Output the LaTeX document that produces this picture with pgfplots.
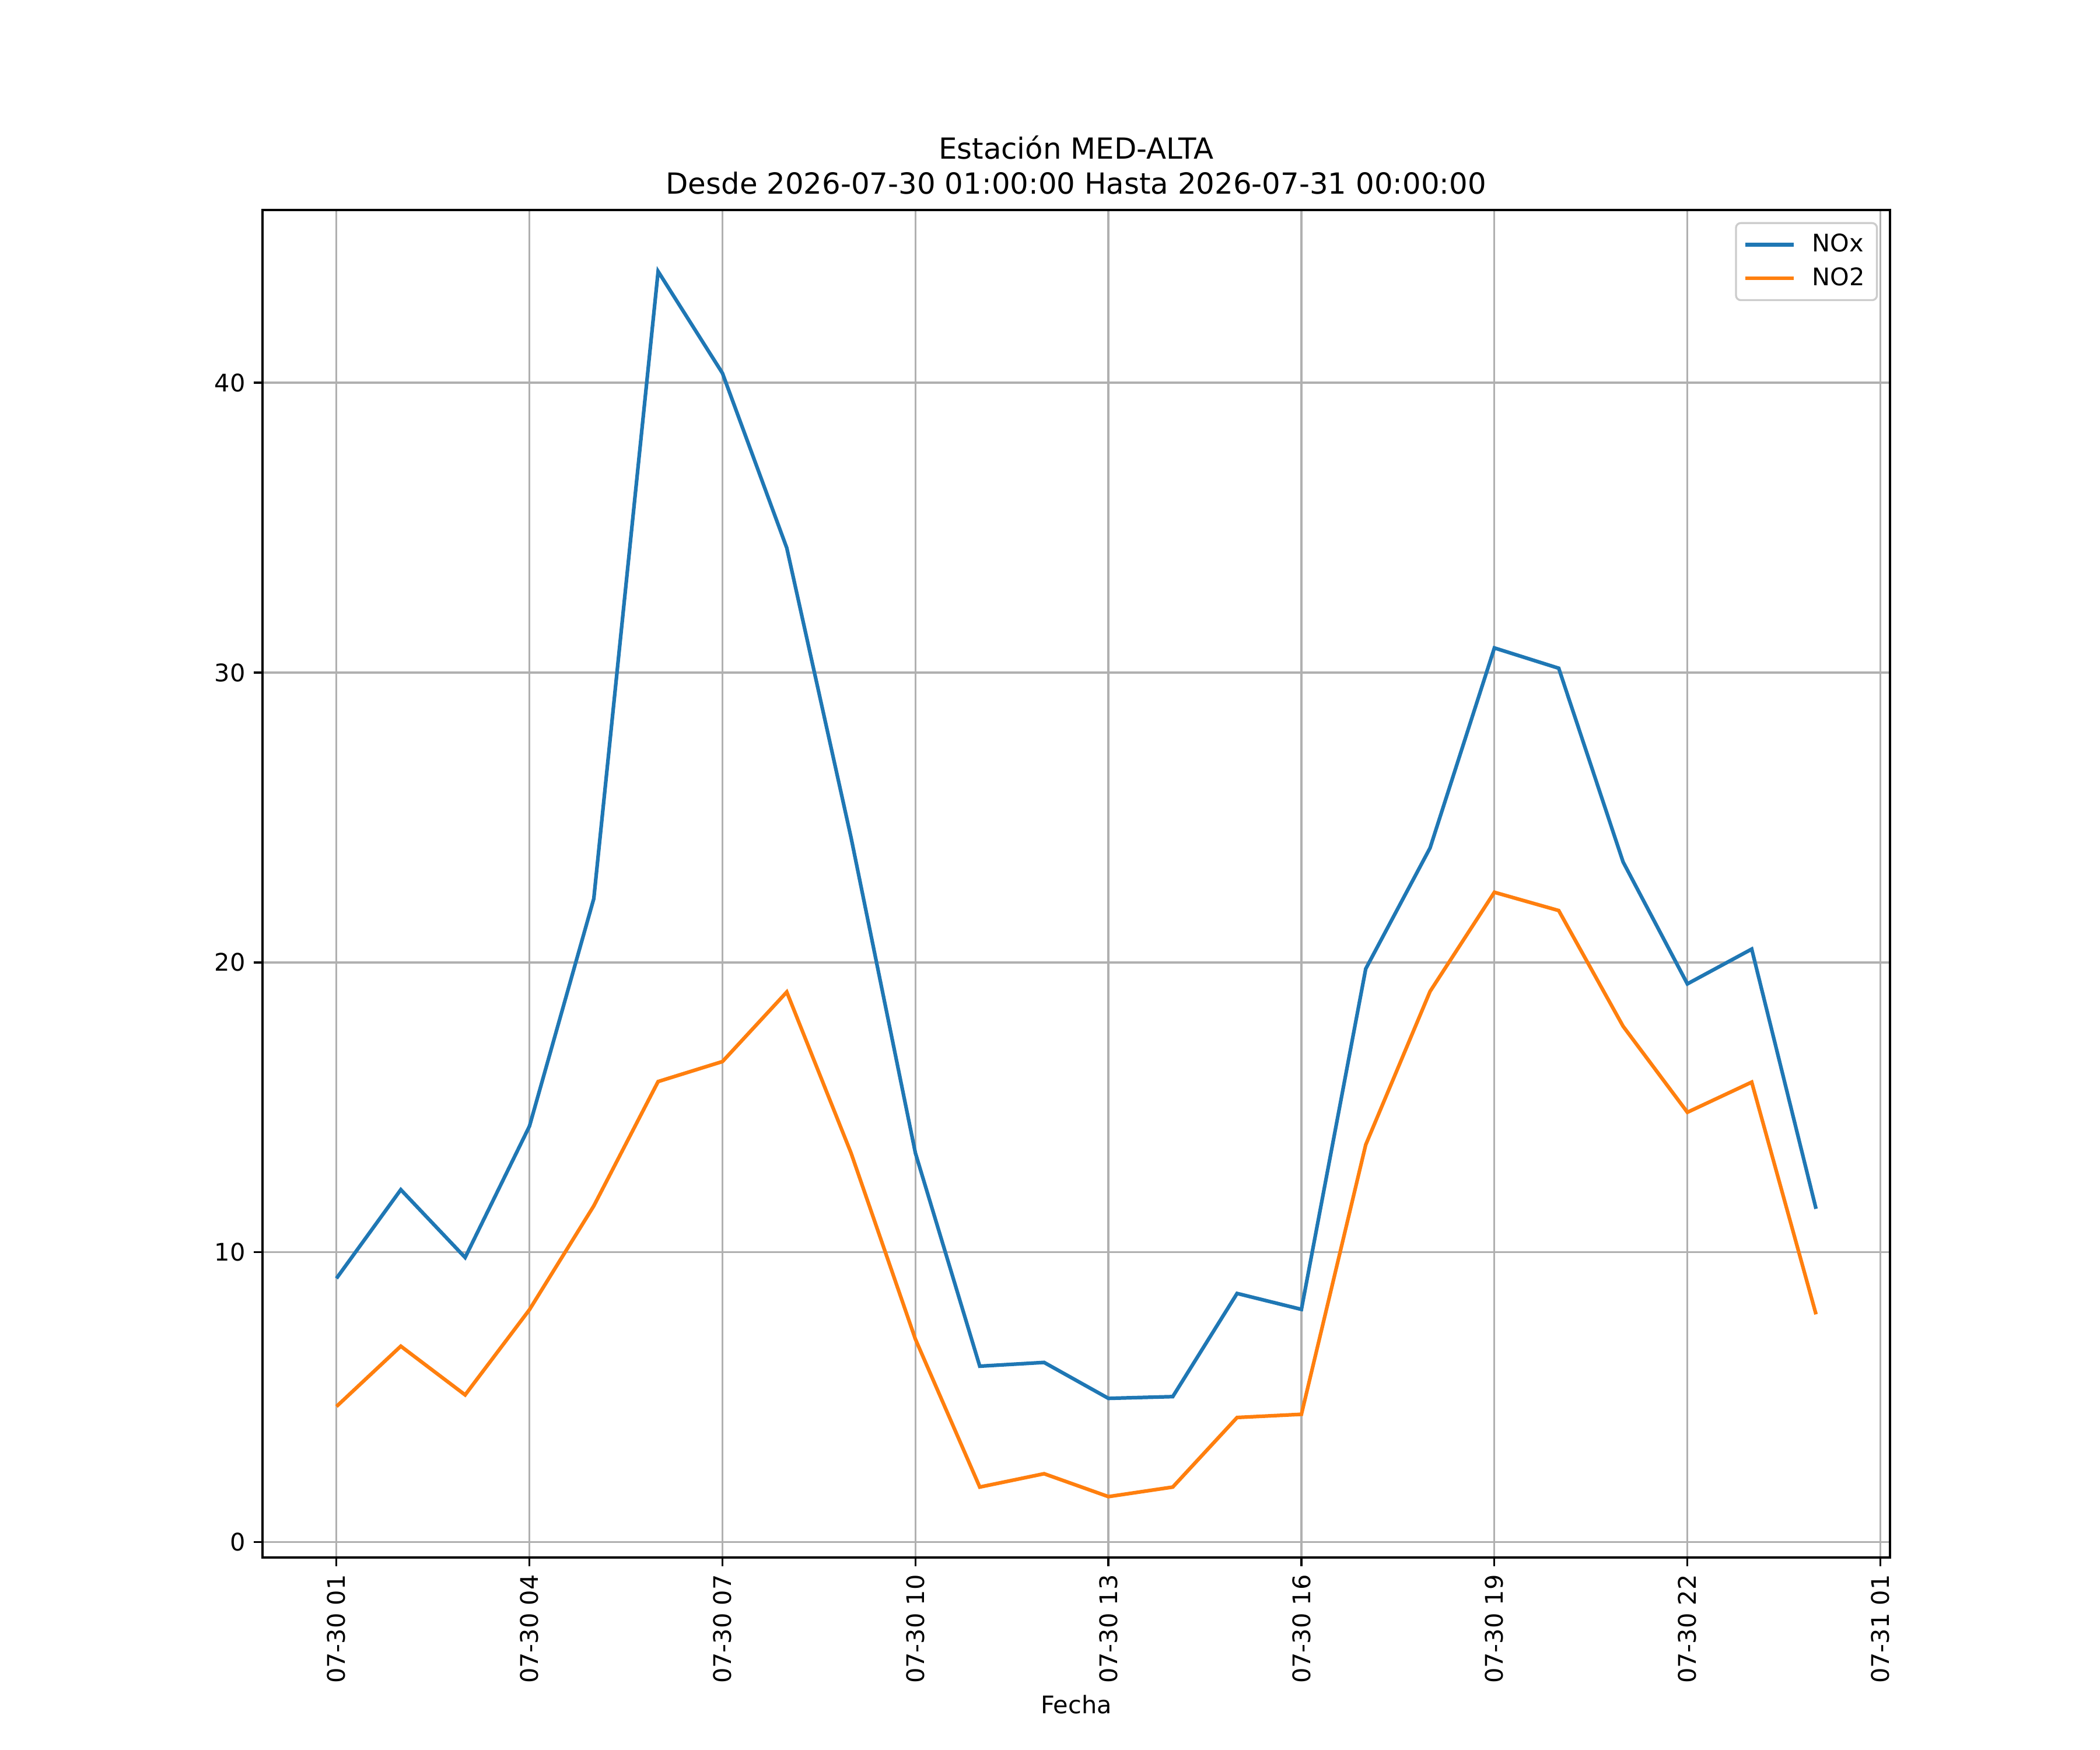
\documentclass[border=0pt]{standalone}
\usepackage{pgfplots}
\pgfplotsset{compat=1.18}
\usepackage{fontspec}
\setmainfont{DejaVu Sans}
\definecolor{mplblue}{HTML}{1F77B4}
\definecolor{mplorange}{HTML}{FF7F0E}
\definecolor{gridgray}{HTML}{B0B0B0}
\definecolor{legedge}{HTML}{CCCCCC}
\pgfplotstableread{
h nox no2
1 9.10 4.68
2 12.16 6.76
3 9.82 5.08
4 14.35 8.02
5 22.20 11.60
6 43.84 15.89
7 40.33 16.58
8 34.30 18.98
9 24.30 13.42
10 13.42 7.00
11 6.07 1.90
12 6.20 2.36
13 4.96 1.57
14 5.02 1.90
15 8.58 4.30
16 8.03 4.41
17 19.78 13.71
18 23.95 19.00
19 30.85 22.42
20 30.15 21.79
21 23.47 17.80
22 19.26 14.83
23 20.46 15.87
24 11.50 7.86
}\datatable
\begin{document}
\begin{tikzpicture}
\useasboundingbox (-1.5in,-1.1in) rectangle (10.5in,8.9in);
\begin{axis}[
  at={(0,0)}, anchor=south west,
  scale only axis, width=9.3in, height=7.7in,
  xmin=-0.15, xmax=25.15, ymin=-0.53, ymax=45.96,
  xtick={1,4,7,10,13,16,19,22,25},
  xticklabels={07-30 01,07-30 04,07-30 07,07-30 10,07-30 13,07-30 16,07-30 19,07-30 22,07-31 01},
  ytick={0,10,20,30,40},
  x tick label style={rotate=90, anchor=east, font=\fontsize{10}{12}\selectfont},
  y tick label style={font=\fontsize{10}{12}\selectfont},
  /pgf/number format/assume math mode=true,
  tick align=outside, tick pos=left,
  major tick length=3.5pt,
  every tick/.style={black, line width=0.8pt},
  axis line style={line width=0.8pt},
  grid=major,
  major grid style={gridgray, line width=0.8pt},
  xlabel={Fecha},
  xlabel style={font=\fontsize{10}{12}\selectfont, yshift=2pt},
  title={Estación MED-ALTA\\Desde 2026-07-30 01:00:00 Hasta 2026-07-31 00:00:00},
  title style={align=center, font=\fontsize{12}{14.4}\selectfont, yshift=-3pt},
  legend style={at={(rel axis cs:1,1)}, xshift=-5pt, yshift=-5pt, anchor=north east,
    draw=legedge, rounded corners=2pt, line width=0.8pt, fill=white, fill opacity=0.8, text opacity=1,
    font=\fontsize{10}{12}\selectfont, inner xsep=3pt, inner ysep=2.5pt, row sep=1pt,
    /tikz/every odd column/.append style={column sep=5pt}},
  legend cell align=left,
  legend image code/.code={\draw[#1, line width=1.5pt] (0pt,0pt) -- (20pt,0pt);},
]
\addplot[mplblue, line width=1.5pt] table[x=h, y=nox] {\datatable};
\addlegendentry{NOx}
\addplot[mplorange, line width=1.5pt] table[x=h, y=no2] {\datatable};
\addlegendentry{NO2}
\end{axis}
\end{tikzpicture}
\end{document}
